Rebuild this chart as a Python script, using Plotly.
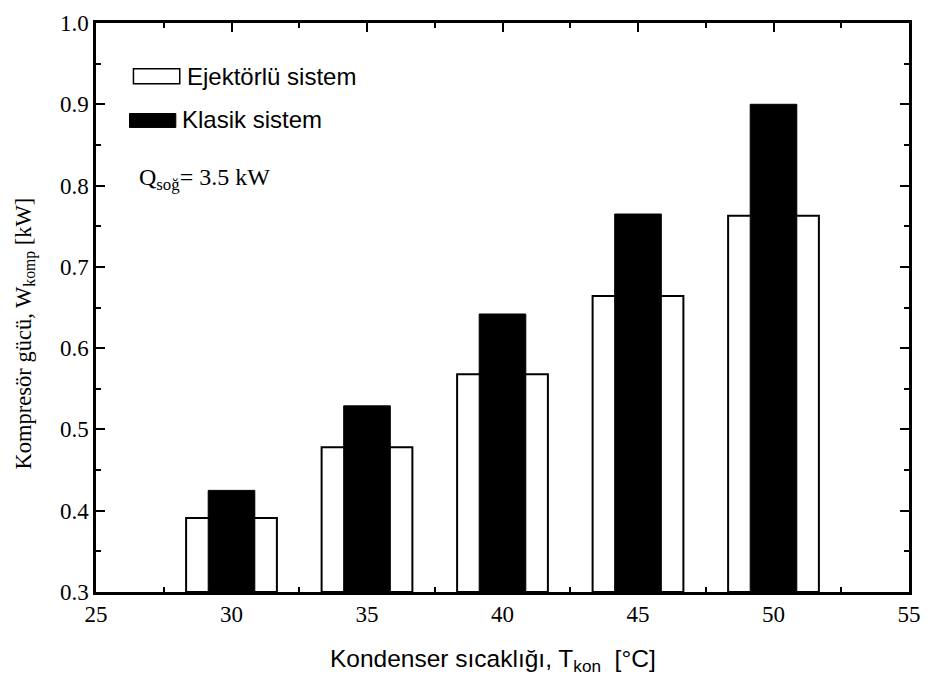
import plotly.graph_objects as go

# Condenser temperature [°C]
t_kon = [30, 35, 40, 45, 50]
# Compressor power [kW]
w_ejektor = [0.391, 0.478, 0.568, 0.664, 0.763]
w_klasik = [0.425, 0.529, 0.642, 0.765, 0.900]

x_ticks = [25, 30, 35, 40, 45, 50, 55]
y_ticks = [0.3, 0.4, 0.5, 0.6, 0.7, 0.8, 0.9, 1.0]
y_base = 0.3

SERIF = "Liberation Serif, Times New Roman, serif"
SANS = "Liberation Sans, Arial, sans-serif"

W, H = 932, 678
L, R, T, B = 96, 11, 20, 86
pw, ph = W - L - R, H - T - B


def px(x):
    return (x - L) / pw


def py(y):
    return (H - B - y) / ph


fig = go.Figure()
fig.add_trace(go.Bar(
    x=t_kon, y=[v - y_base for v in w_ejektor], base=y_base, width=3.35,
    name="Ejektörlü sistem", showlegend=False,
    marker=dict(color="white", line=dict(color="black", width=2)),
))
fig.add_trace(go.Bar(
    x=t_kon, y=[v - y_base for v in w_klasik], base=y_base, width=1.72,
    name="Klasik sistem", showlegend=False,
    marker=dict(color="black", line=dict(color="black", width=1)),
))

axis_common = dict(
    showgrid=False, zeroline=False, showline=True, linecolor="black",
    linewidth=2.5, mirror="ticks", ticks="inside", ticklen=9, tickwidth=1.5,
    tickcolor="black", tickfont=dict(family=SERIF, size=23, color="black"),
)
fig.update_xaxes(
    range=[25, 55], tickvals=x_ticks, ticktext=[str(v) for v in x_ticks],
    minor=dict(dtick=2.5, tick0=25, ticks="inside", ticklen=5, tickwidth=1.5, tickcolor="black"),
    **axis_common,
)
fig.update_yaxes(
    range=[0.3, 1.0], tickvals=y_ticks, ticktext=[f"{v:.1f}" for v in y_ticks],
    minor=dict(dtick=0.05, tick0=0.3, ticks="inside", ticklen=5, tickwidth=1.5, tickcolor="black"),
    **axis_common,
)

# legend swatches
shapes = [
    dict(type="rect", xref="paper", yref="paper",
         x0=px(134), x1=px(181), y0=py(81), y1=py(66),
         fillcolor="white", line=dict(color="black", width=1.5)),
    dict(type="rect", xref="paper", yref="paper",
         x0=px(130), x1=px(177), y0=py(125), y1=py(111),
         fillcolor="black", line=dict(color="black", width=1)),
]

annotations = [
    dict(text="Ejektörlü sistem", x=px(186), y=py(74), xref="paper", yref="paper",
         xanchor="left", yanchor="middle", showarrow=False,
         font=dict(family=SANS, size=24, color="black")),
    dict(text="Klasik sistem", x=px(181), y=py(117), xref="paper", yref="paper",
         xanchor="left", yanchor="middle", showarrow=False,
         font=dict(family=SANS, size=24, color="black")),
    dict(text="Q<sub>soğ</sub>= 3.5 kW", x=px(138), y=py(177), xref="paper", yref="paper",
         xanchor="left", yanchor="middle", showarrow=False,
         font=dict(family=SERIF, size=24, color="black")),
    dict(text="Kondenser sıcaklığı, T<sub>kon</sub>  [°C]", x=px(499), y=py(661),
         xref="paper", yref="paper", xanchor="center", yanchor="middle", showarrow=False,
         font=dict(family=SANS, size=24.5, color="black")),
    dict(text="Kompresör gücü, W<sub>komp</sub> [kW]", x=px(24), y=py(332),
         xref="paper", yref="paper", xanchor="center", yanchor="middle", showarrow=False,
         textangle=-90, font=dict(family=SERIF, size=22.5, color="black")),
]

fig.update_layout(
    width=W, height=H, barmode="overlay",
    margin=dict(l=L, r=R, t=T, b=B),
    paper_bgcolor="white", plot_bgcolor="white",
    shapes=shapes, annotations=annotations,
)

fig.write_html("out.html")
